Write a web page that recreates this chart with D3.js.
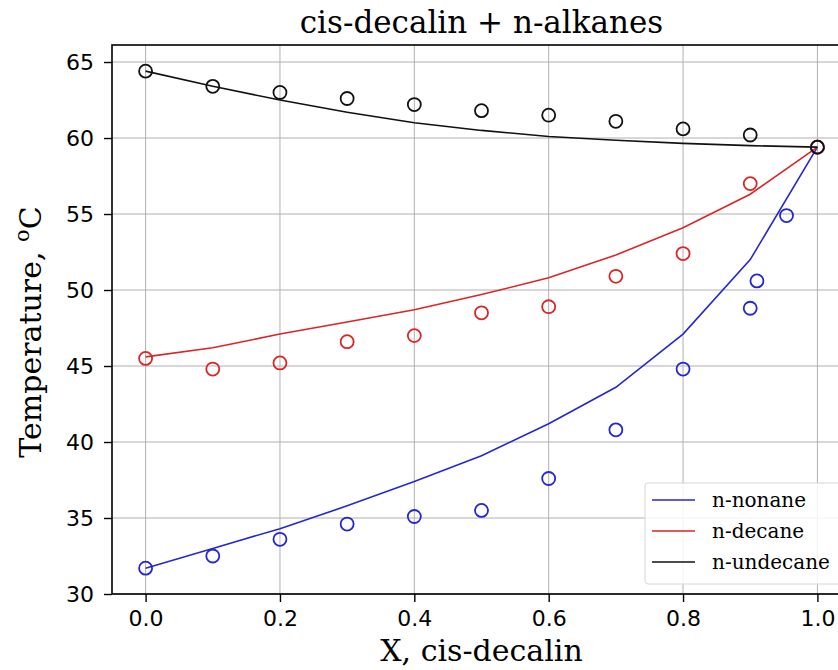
<!DOCTYPE html>
<html>
<head>
<meta charset="utf-8">
<script src="https://cdn.jsdelivr.net/npm/d3@7"></script>
<style>
  body { margin: 0; background: #fff; }
  svg { display: block; }
  .tick text { font-family: "DejaVu Sans", sans-serif; font-size: 22px; fill: #000; }
  .grid line { stroke: #b0b0b0; stroke-width: 1; }
</style>
</head>
<body>
<svg id="chart" width="838" height="670"></svg>
<script>
// Mole fraction of cis-decalin used for the model curves.
var xLine = [0.0, 0.1, 0.2, 0.3, 0.4, 0.5, 0.6, 0.7, 0.8, 0.9, 1.0];

// Model curves (lines), temperature in oC.
var nonaneLine   = [31.7, 33.0, 34.3, 35.8, 37.4, 39.1, 41.2, 43.6, 47.1, 52.0, 59.4];
var decaneLine   = [45.6, 46.2, 47.1, 47.9, 48.7, 49.7, 50.8, 52.3, 54.1, 56.3, 59.4];
var undecaneLine = [64.4, 63.4, 62.5, 61.7, 61.0, 60.5, 60.1, 59.85, 59.65, 59.5, 59.4];

// Experimental points (open circles).
var nonaneX   = [0.0, 0.1, 0.2, 0.3, 0.4, 0.5, 0.6, 0.7, 0.8, 0.9, 0.91, 0.954, 1.0];
var nonaneT   = [31.7, 32.5, 33.6, 34.6, 35.1, 35.5, 37.6, 40.8, 44.8, 48.8, 50.6, 54.9, 59.4];
var decaneX   = [0.0, 0.1, 0.2, 0.3, 0.4, 0.5, 0.6, 0.7, 0.8, 0.9, 1.0];
var decaneT   = [45.5, 44.8, 45.2, 46.6, 47.0, 48.5, 48.9, 50.9, 52.4, 57.0, 59.4];
var undecaneX = [0.0, 0.1, 0.2, 0.3, 0.4, 0.5, 0.6, 0.7, 0.8, 0.9, 1.0];
var undecaneT = [64.4, 63.4, 63.0, 62.6, 62.2, 61.8, 61.5, 61.1, 60.6, 60.2, 59.4];

var xTicks = [0.0, 0.2, 0.4, 0.6, 0.8, 1.0];
var yTicks = [30, 35, 40, 45, 50, 55, 60, 65];

var series = [
  { name: "n-nonane",   color: "#2626d2", line: nonaneLine,   px: nonaneX,   py: nonaneT },
  { name: "n-decane",   color: "#d92626", line: decaneLine,   px: decaneX,   py: decaneT },
  { name: "n-undecane", color: "#111111", line: undecaneLine, px: undecaneX, py: undecaneT }
];

var margin = { left: 112, top: 45, right: 851, bottom: 594 };

var x = d3.scaleLinear().domain([-0.05, 1.05]).range([margin.left, margin.right]);
var y = d3.scaleLinear().domain([30, 66.12]).range([margin.bottom, margin.top]);

var svg = d3.select("#chart");

// grid
svg.append("g").attr("class", "grid")
  .selectAll("line.gx").data(xTicks).enter().append("line")
  .attr("x1", function(d) { return x(d); }).attr("x2", function(d) { return x(d); })
  .attr("y1", margin.top).attr("y2", margin.bottom);
svg.append("g").attr("class", "grid")
  .selectAll("line.gy").data(yTicks).enter().append("line")
  .attr("y1", function(d) { return y(d); }).attr("y2", function(d) { return y(d); })
  .attr("x1", margin.left).attr("x2", margin.right);

// curves
var line = d3.line()
  .x(function(d, i) { return x(xLine[i]); })
  .y(function(d) { return y(d); });

series.forEach(function(s) {
  svg.append("path")
    .attr("d", line(s.line))
    .attr("fill", "none")
    .attr("stroke", s.color)
    .attr("stroke-width", 1.6);
});

// points
series.forEach(function(s) {
  svg.append("g").selectAll("circle")
    .data(s.px).enter().append("circle")
    .attr("cx", function(d) { return x(d); })
    .attr("cy", function(d, i) { return y(s.py[i]); })
    .attr("r", 6.5)
    .attr("fill", "none")
    .attr("stroke", s.color)
    .attr("stroke-width", 1.8);
});

// frame
svg.append("rect")
  .attr("x", margin.left).attr("y", margin.top)
  .attr("width", margin.right - margin.left).attr("height", margin.bottom - margin.top)
  .attr("fill", "none").attr("stroke", "#000").attr("stroke-width", 1.6);

// axes
var xAxis = d3.axisBottom(x).tickValues(xTicks).tickFormat(d3.format(".1f"))
  .tickSizeOuter(0).tickSizeInner(8).tickPadding(8);
var gx = svg.append("g").attr("transform", "translate(0," + margin.bottom + ")").call(xAxis);
gx.select(".domain").remove();
gx.selectAll(".tick line").attr("stroke", "#000").attr("stroke-width", 1.4);

var yAxis = d3.axisLeft(y).tickValues(yTicks).tickFormat(d3.format("d"))
  .tickSizeOuter(0).tickSizeInner(8).tickPadding(10);
var gy = svg.append("g").attr("transform", "translate(" + margin.left + ",0)").call(yAxis);
gy.select(".domain").remove();
gy.selectAll(".tick line").attr("stroke", "#000").attr("stroke-width", 1.4);

// title and labels
svg.append("text")
  .attr("x", (margin.left + margin.right) / 2).attr("y", 33)
  .attr("text-anchor", "middle")
  .attr("font-family", "DejaVu Serif, serif").attr("font-size", 31)
  .text("cis-decalin + n-alkanes");

svg.append("text")
  .attr("x", (margin.left + margin.right) / 2).attr("y", 661)
  .attr("text-anchor", "middle")
  .attr("font-family", "DejaVu Serif, serif").attr("font-size", 30)
  .text("X, cis-decalin");

var yl = svg.append("text")
  .attr("transform", "translate(41,332) rotate(-90)")
  .attr("text-anchor", "middle")
  .attr("font-family", "DejaVu Serif, serif").attr("font-size", 30);
yl.append("tspan").text("Temperature, ");
yl.append("tspan").attr("dy", -12).attr("font-size", 21).text("o");
yl.append("tspan").attr("dy", 12).text("C");

// legend
var lg = svg.append("g").attr("transform", "translate(645,483)");
lg.append("rect")
  .attr("width", 210).attr("height", 101).attr("rx", 3)
  .attr("fill", "#fff").attr("fill-opacity", 0.85)
  .attr("stroke", "#d6d6d6").attr("stroke-width", 1);

var li = lg.selectAll("g.item").data(series).enter().append("g")
  .attr("transform", function(d, i) { return "translate(0," + (17 + i * 31) + ")"; });
li.append("line")
  .attr("x1", 7).attr("x2", 50)
  .attr("stroke", function(d) { return d.color; }).attr("stroke-width", 1.6);
li.append("text")
  .attr("x", 67).attr("dy", "0.35em")
  .attr("font-family", "DejaVu Serif, serif").attr("font-size", 20)
  .text(function(d) { return d.name; });
</script>
</body>
</html>
